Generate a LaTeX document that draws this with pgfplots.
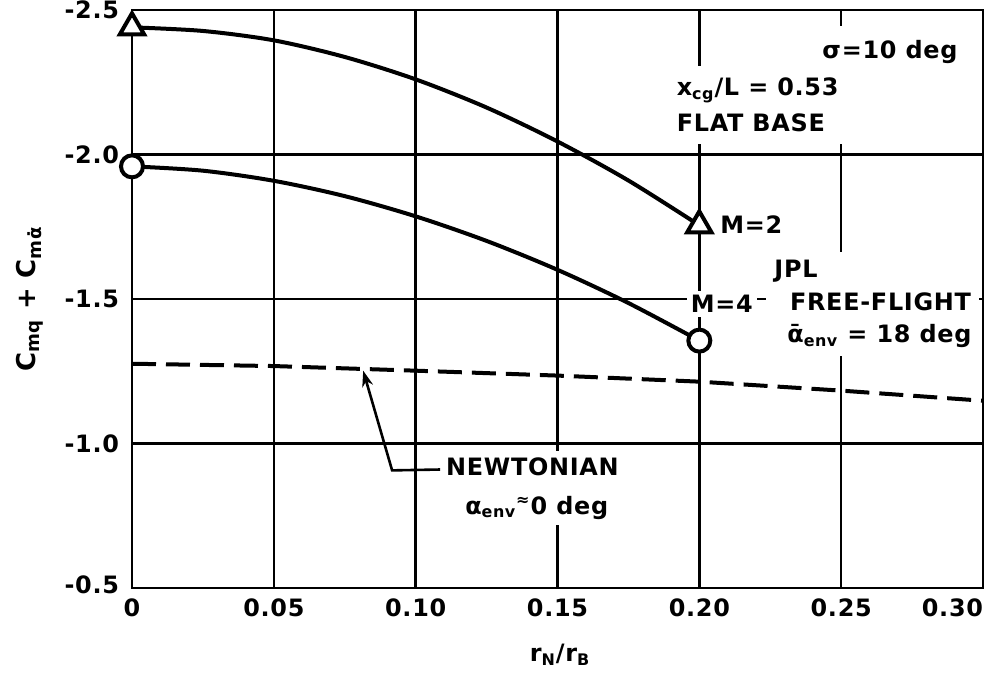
\documentclass[border=0pt]{standalone}
\usepackage{fontspec}
\setmainfont{DejaVu Sans}[UprightFont={* Bold}, LetterSpace=3]
\usepackage{pgfplots}
\pgfplotsset{compat=1.18}
\usetikzlibrary{arrows.meta}

\begin{document}
\begin{tikzpicture}[font=\fontsize{12}{14}\selectfont]
\begin{axis}[
  name=ax,
  scale only axis,
  width=425.5bp, height=289bp,
  xmin=0, xmax=0.30, ymin=-2.5, ymax=-0.5,
  y dir=reverse,
  clip=false,
  xtick={0,0.05,0.10,0.15,0.20,0.25,0.30},
  xticklabels={0,0.05,0.10,0.15,0.20,0.25,\makebox[0pt][r]{0.30}},
  ytick={-2.5,-2.0,-1.5,-1.0,-0.5},
  yticklabels={\raisebox{-4bp}{-2.5},-2.0,-1.5,-1.0,\raisebox{3bp}{-0.5}},
  major tick length=0pt,
  grid=major,
  grid style={black, line width=1.3bp},
  axis line style={black, line width=1.3bp},
  yticklabel style={xshift=-3bp},
  xticklabel style={yshift=-2bp},
  /pgf/number format/assume math mode=true,
  xlabel={r\textsubscript{N}/r\textsubscript{B}},
  ylabel={C\textsubscript{mq} + C\textsubscript{mα̇}},
  xlabel style={at={(axis description cs:0.503,0)}, anchor=center, yshift=-33.5bp},
  ylabel style={at={(axis description cs:0,0.5)}, anchor=center, yshift=51bp,
    font=\fontsize{13}{15}\selectfont},
]
% Newtonian estimate
\addplot[black, line width=2bp, dash pattern=on 12bp off 5bp] coordinates {
  (0,-1.276) (0.05,-1.268) (0.10,-1.252) (0.15,-1.235) (0.20,-1.214) (0.25,-1.183) (0.30,-1.148)
};
% M = 2 free-flight curve
\addplot[black, line width=2bp, smooth] coordinates {
  (0,-2.44) (0.025,-2.4275) (0.05,-2.395) (0.075,-2.3375) (0.10,-2.26)
  (0.125,-2.1625) (0.15,-2.045) (0.175,-1.91) (0.20,-1.755)
};
% M = 4 free-flight curve
\addplot[black, line width=2bp, smooth] coordinates {
  (0,-1.959) (0.025,-1.944) (0.05,-1.909) (0.075,-1.856) (0.10,-1.786)
  (0.125,-1.701) (0.15,-1.601) (0.175,-1.486) (0.20,-1.356)
};
% data points
\addplot[only marks, mark=triangle*, mark size=7bp,
  mark options={fill=white, draw=black, line width=2bp}] coordinates {(0,-2.44) (0.20,-1.755)};
\addplot[only marks, mark=*, mark size=5.5bp,
  mark options={fill=white, draw=black, line width=2bp}] coordinates {(0,-1.959) (0.20,-1.356)};

% annotations
\node[fill=white, inner sep=7bp] at (0.2672,-2.355) {σ=10 deg};
\node[fill=white, anchor=west, align=left, inner xsep=2bp, inner ysep=6bp,
  font=\fontsize{12}{18}\selectfont] at (0.1905,-2.172)
  {x\textsubscript{cg}/L = 0.53\\FLAT BASE};
\node[anchor=west, inner sep=1bp] at (0.2066,-1.759) {M=2};
\node[fill=white, anchor=west, inner sep=2bp] at (0.1955,-1.483) {M=4};
\node[fill=white, anchor=west, align=left, inner sep=4bp,
  font=\fontsize{12}{16.5}\selectfont] at (0.2235,-1.483)
  {JPL\\\hspace{1.2ex}FREE-FLIGHT\\\hspace{1.0ex}ᾱ\textsubscript{env} = 18 deg};
\node[fill=white, anchor=west, align=left, inner sep=3bp,
  font=\fontsize{12}{19.5}\selectfont] at (0.1085,-0.845)
  {NEWTONIAN\\\hspace{0.8em}α\textsubscript{env}\textsuperscript{≈}0 deg};
\draw[black, line width=1.3bp, -{Stealth[length=8bp,width=5.5bp]}]
  (0.1086,-0.91) -- (0.0917,-0.907) -- (0.0815,-1.252);
\end{axis}
\pgfresetboundingbox
\path (ax.south west) ++(-66bp,-47bp) rectangle ([shift={(3.5bp,5bp)}]ax.north east);
\end{tikzpicture}
\end{document}
